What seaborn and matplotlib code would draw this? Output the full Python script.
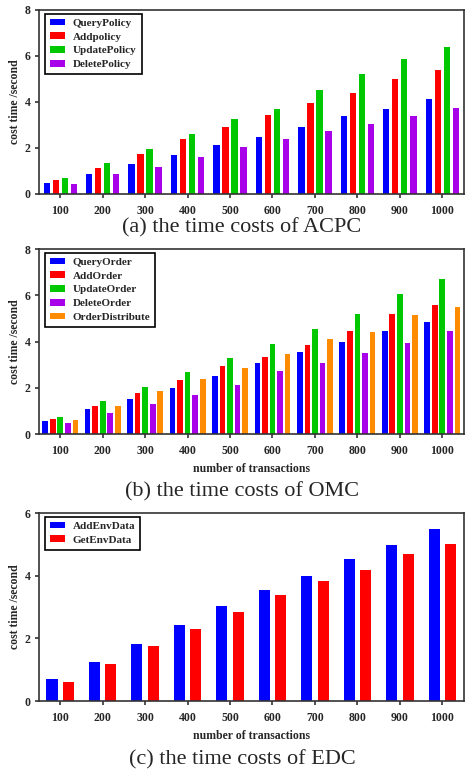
import matplotlib
matplotlib.use("Agg")
import matplotlib.pyplot as plt
import seaborn as sns
import pandas as pd

transactions = ["100", "200", "300", "400", "500", "600", "700", "800", "900", "1000"]

# (a) ACPC
acpc_labels = ["QueryPolicy", "Addpolicy", "UpdatePolicy", "DeletePolicy"]
acpc_query = [0.49, 0.88, 1.32, 1.69, 2.11, 2.49, 2.91, 3.39, 3.69, 4.11]
acpc_add = [0.62, 1.13, 1.74, 2.37, 2.91, 3.44, 3.97, 4.40, 5.01, 5.41]
acpc_update = [0.68, 1.36, 1.95, 2.59, 3.24, 3.69, 4.53, 5.21, 5.86, 6.41]
acpc_delete = [0.43, 0.85, 1.16, 1.59, 2.04, 2.39, 2.75, 3.04, 3.39, 3.73]

# (b) OMC
omc_labels = ["QueryOrder", "AddOrder", "UpdateOrder", "DeleteOrder", "OrderDistribute"]
omc_query = [0.58, 1.08, 1.50, 2.00, 2.50, 3.06, 3.54, 4.00, 4.47, 4.83]
omc_add = [0.65, 1.21, 1.78, 2.35, 2.96, 3.35, 3.84, 4.46, 5.19, 5.58]
omc_update = [0.75, 1.41, 2.04, 2.68, 3.28, 3.91, 4.56, 5.17, 6.04, 6.72]
omc_delete = [0.46, 0.89, 1.29, 1.68, 2.12, 2.72, 3.09, 3.50, 3.93, 4.47]
omc_distribute = [0.60, 1.19, 1.84, 2.40, 2.86, 3.48, 4.10, 4.42, 5.15, 5.51]

# (c) EDC
edc_labels = ["AddEnvData", "GetEnvData"]
edc_add = [0.69, 1.25, 1.83, 2.43, 3.02, 3.53, 3.99, 4.52, 4.97, 5.50]
edc_get = [0.60, 1.18, 1.74, 2.31, 2.83, 3.37, 3.82, 4.17, 4.68, 5.00]

captions = ["(a) the time costs of ACPC", "(b) the time costs of OMC", "(c) the time costs of EDC"]
ylabel_text = "cost time /second"
xlabel_text = "number of transactions"

BLUE, RED, GREEN, PURPLE, ORANGE = "#0000ff", "#ff0000", "#00c800", "#a800e8", "#ff8c00"

sns.set_style("ticks")
plt.rcParams['font.family'] = ['Liberation Serif', 'DejaVu Serif']
plt.rcParams['font.weight'] = 'bold'
plt.rcParams['axes.labelweight'] = 'bold'

W, H = 465, 775
fig = plt.figure(figsize=(W / 100, H / 100), dpi=100)


def make_axes(top_px, bottom_px, left_px=39, right_px=463.5):
    return fig.add_axes([left_px / W, 1 - bottom_px / H, (right_px - left_px) / W, (bottom_px - top_px) / H])


def panel(ax, labels, series, colors, width, gap, ymax, yticks, xlabel):
    rows = []
    for lab, vals in zip(labels, series):
        for t, v in zip(transactions, vals):
            rows.append({"tx": t, "cost": v, "op": lab})
    df = pd.DataFrame(rows)
    sns.barplot(data=df, x="tx", y="cost", hue="op", hue_order=labels, order=transactions,
                palette=colors, width=width, gap=gap, saturation=1, errorbar=None,
                linewidth=0, ax=ax)
    ax.set_ylim(0, ymax)
    ax.set_xlim(-0.5, 9.5)
    ax.set_yticks(yticks)
    ax.set_yticklabels([str(v) for v in yticks])
    ax.set_ylabel(ylabel_text, fontsize=8.5, fontweight='bold', labelpad=3)
    ax.set_xlabel(xlabel, fontsize=8.5, fontweight='bold', labelpad=4)
    ax.tick_params(axis='both', direction='out', length=3, width=1.1, labelsize=8.5, pad=3, color='#222222')
    ax.tick_params(axis='x', pad=5)
    for lbl in ax.get_xticklabels() + ax.get_yticklabels():
        lbl.set_fontweight('bold')
    for sp in ax.spines.values():
        sp.set_visible(True)
        sp.set_linewidth(1.2)
        sp.set_color('#333333')
    leg = ax.legend(loc='upper left', bbox_to_anchor=(0.013, 0.98), borderaxespad=0,
                    frameon=True, fancybox=False, edgecolor='black', framealpha=1,
                    handlelength=1.4, handleheight=0.55, handletextpad=0.7,
                    borderpad=0.45, labelspacing=0.4, prop={'weight': 'bold', 'size': 8})
    leg.get_frame().set_linewidth(1.2)


ax1 = make_axes(10, 194)
panel(ax1, acpc_labels, [acpc_query, acpc_add, acpc_update, acpc_delete],
      [BLUE, RED, GREEN, PURPLE], 0.85, 0.3, 8, [0, 2, 4, 6, 8], "")

ax2 = make_axes(249, 434)
panel(ax2, omc_labels, [omc_query, omc_add, omc_update, omc_delete, omc_distribute],
      [BLUE, RED, GREEN, PURPLE, ORANGE], 0.89, 0.25, 8, [0, 2, 4, 6, 8], xlabel_text)

ax3 = make_axes(513, 701)
panel(ax3, edc_labels, [edc_add, edc_get], [BLUE, RED], 0.775, 0.33, 6, [0, 2, 4, 6], xlabel_text)

cap_y = [228, 492, 760]
for cap, y in zip(captions, cap_y):
    fig.text(242 / W, 1 - y / H, cap, ha='center', va='center', fontsize=16,
             fontweight='normal', family=['Liberation Serif', 'DejaVu Serif'])

fig.savefig("out.png", dpi=100)
